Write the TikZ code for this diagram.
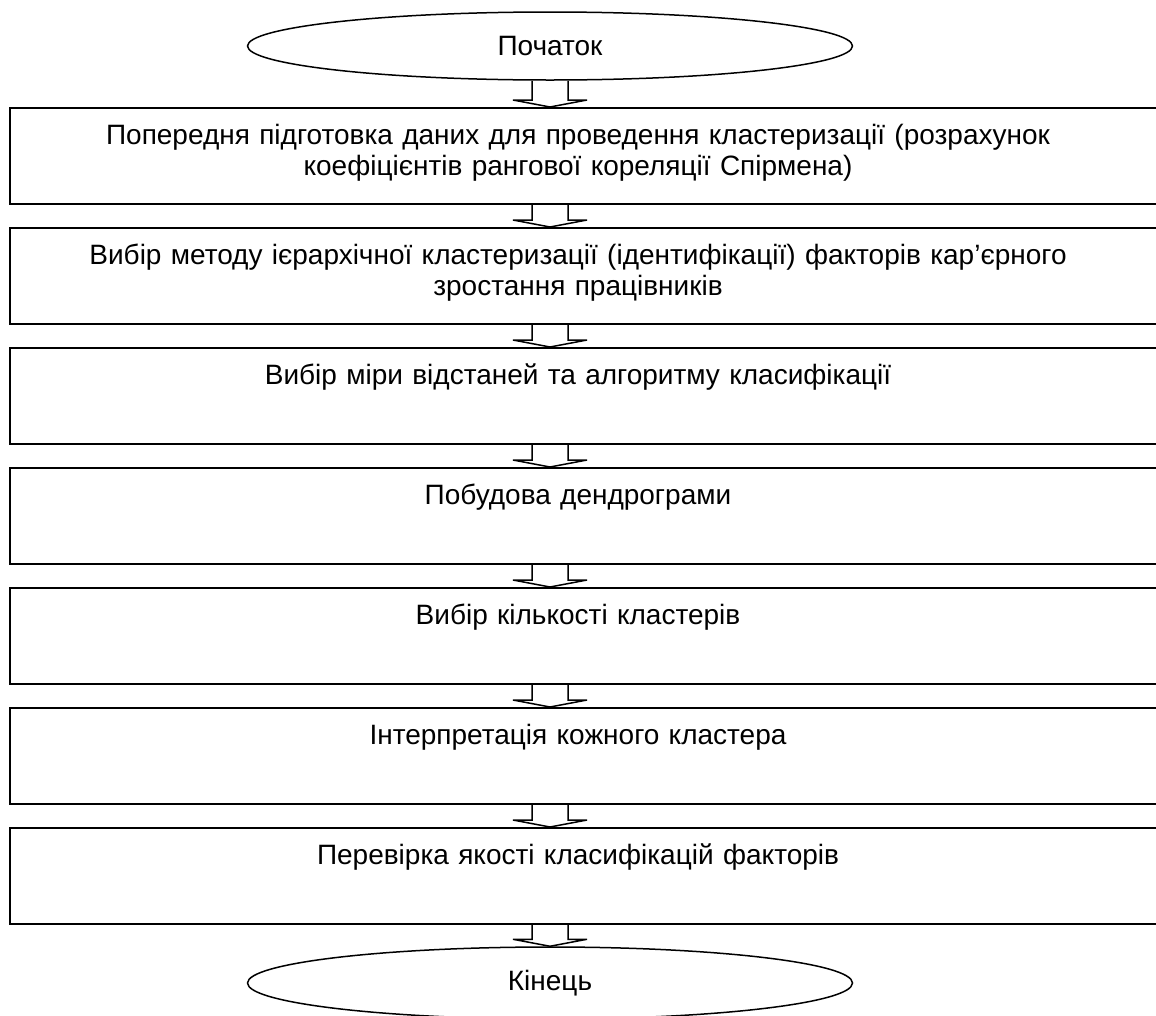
\documentclass[tikz,border=0pt]{standalone}
\usepackage{fontspec}
\setmainfont{Liberation Sans}
\usetikzlibrary{shapes.geometric,calc}
\tikzset{
  term/.style={draw, ellipse, line width=1.5pt, minimum width=605pt, minimum height=68pt, inner sep=0pt},
  stepbox/.style={draw, rectangle, line width=1.5pt, minimum width=1150pt, minimum height=96pt, inner sep=0pt, anchor=north},
  boxtext/.style={anchor=north, inner sep=0pt, align=center, text width=1130pt},
  arrline/.style={line width=1.5pt, line join=miter},
  every node/.style={font=\fontsize{28}{31}\selectfont}
}
\newcommand\blockarr[2]{\draw[arrline] ($(#1)+(-18,0)$) -- ($(#2)+(-18,-7)$) -- ($(#2)+(-37,-7)$) -- (#2) -- ($(#2)+(37,-7)$) -- ($(#2)+(18,-7)$) -- ($(#1)+(18,0)$);}
\begin{document}
\begin{tikzpicture}[x=1pt,y=-1pt]
\useasboundingbox (0,0) rectangle (1156,1015);
\coordinate (ax) at (550,0);
\coordinate (tx) at (578,0);
\node[term] (e1) at (550,46) {Початок};
\node[stepbox] (b1) at (585,107) {};
\node[stepbox] (b2) at (585,227) {};
\node[stepbox] (b3) at (585,347) {};
\node[stepbox] (b4) at (585,467) {};
\node[stepbox] (b5) at (585,587) {};
\node[stepbox] (b6) at (585,707) {};
\node[stepbox] (b7) at (585,827) {};
\node[term, minimum height=72pt] (e2) at (550,983) {Кінець};
\node[boxtext] (t1) at ($(b1.north -| tx)+(0,17)$) {Попередня підготовка даних для проведення кластеризації (розрахунок\\коефіцієнтів рангової кореляції Спірмена)};
\node[boxtext] (t2) at ($(b2.north -| tx)+(0,17)$) {Вибір методу ієрархічної кластеризації (ідентифікації) факторів кар’єрного\\зростання працівників};
\node[boxtext] (t3) at ($(b3.north -| tx)+(0,17)$) {Вибір міри відстаней та алгоритму класифікації};
\node[boxtext] (t4) at ($(b4.north -| tx)+(0,17)$) {Побудова дендрограми};
\node[boxtext] (t5) at ($(b5.north -| tx)+(0,17)$) {Вибір кількості кластерів};
\node[boxtext] (t6) at ($(b6.north -| tx)+(0,17)$) {Інтерпретація кожного кластера};
\node[boxtext] (t7) at ($(b7.north -| tx)+(0,17)$) {Перевірка якості класифікацій факторів};
\coordinate (s0) at (e1.south -| ax); \coordinate (n1) at (b1.north -| ax);
\coordinate (s1) at (b1.south -| ax); \coordinate (n2) at (b2.north -| ax);
\coordinate (s2) at (b2.south -| ax); \coordinate (n3) at (b3.north -| ax);
\coordinate (s3) at (b3.south -| ax); \coordinate (n4) at (b4.north -| ax);
\coordinate (s4) at (b4.south -| ax); \coordinate (n5) at (b5.north -| ax);
\coordinate (s5) at (b5.south -| ax); \coordinate (n6) at (b6.north -| ax);
\coordinate (s6) at (b6.south -| ax); \coordinate (n7) at (b7.north -| ax);
\coordinate (s7) at (b7.south -| ax); \coordinate (n8) at (e2.north -| ax);
\blockarr{s0}{n1}
\blockarr{s1}{n2}
\blockarr{s2}{n3}
\blockarr{s3}{n4}
\blockarr{s4}{n5}
\blockarr{s5}{n6}
\blockarr{s6}{n7}
\blockarr{s7}{n8}
\end{tikzpicture}
\end{document}
